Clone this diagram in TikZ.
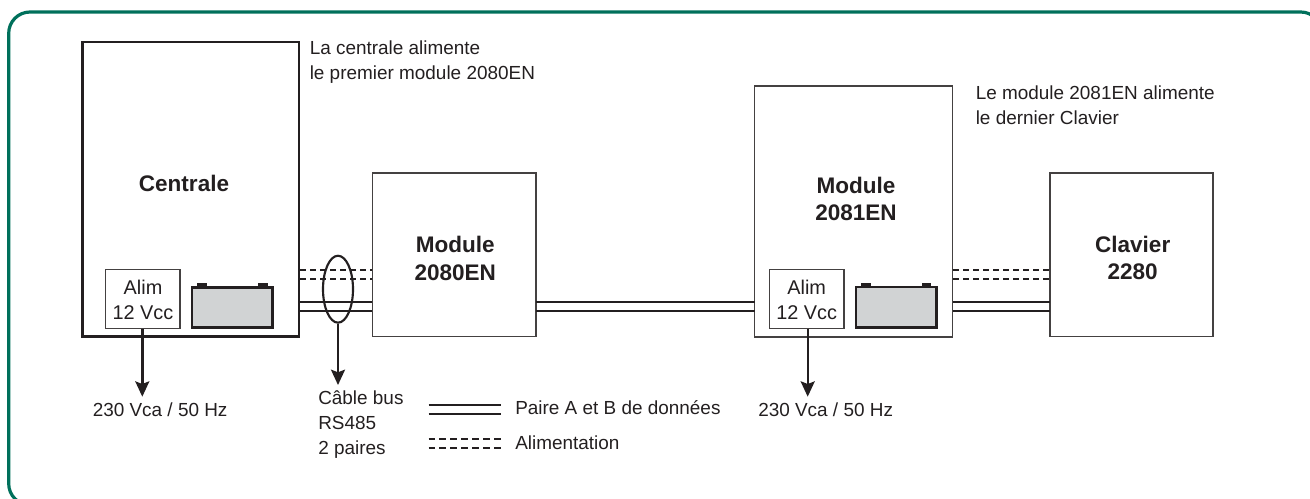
\documentclass[tikz,border=0pt]{standalone}
\usepackage{fontspec}
\setmainfont{Liberation Sans}
\usetikzlibrary{arrows.meta,shapes.geometric}
\definecolor{framegreen}{HTML}{00705B}
\definecolor{ink}{HTML}{231F20}
\definecolor{batgrey}{HTML}{D1D3D4}
\tikzset{
  x=0.75pt,y=-0.75pt,
  frameline/.style={draw=framegreen,line width=2.4pt,rounded corners=16pt},
  thickbox/.style={draw=ink,line width=1.8pt,fill=white,inner sep=0pt},
  thinbox/.style={draw=ink!85,line width=1pt,fill=white,inner sep=0pt},
  wire/.style={draw=ink,line width=1.5pt},
  dashwire/.style={draw=ink,line width=1.5pt,dash pattern=on 4.5pt off 3pt},
  legenddash/.style={draw=ink,line width=1.5pt,dash pattern=on 5pt off 3.2pt},
  flow/.style={draw=ink,line width=1.8pt,-{Stealth[length=11.5pt,width=10.5pt,inset=2pt]}},
  title/.style={font=\bfseries\fontsize{16.9}{20.7}\selectfont,text=ink,align=center,inner sep=0pt},
  caption/.style={font=\fontsize{14.2}{18.6}\selectfont,text=ink,align=left,inner sep=0pt},
  alimbox/.style={thinbox,align=center,font=\fontsize{14.9}{18.3}\selectfont,text=ink},
  battery/.style={draw=ink,line width=1.8pt,fill=batgrey},
  terminal/.style={draw=none,fill=ink},
  cable/.style={draw=ink,line width=1.6pt},
}
\begin{document}
\begin{tikzpicture}
\useasboundingbox (0,0) rectangle (1310,499);
\draw[frameline] (8.7,12) rectangle (1322,505);
% boxes
\node[thickbox,minimum width=162.4pt,minimum height=220.5pt] (centrale) at (190.7,189.3) {};
\node[thinbox,minimum width=122.7pt,minimum height=122.5pt] (m2080) at (454.2,254.7) {};
\node[thinbox,minimum width=148.5pt,minimum height=188.2pt] (m2081) at (853.7,211.4) {};
\node[thinbox,minimum width=122.2pt,minimum height=122.5pt] (clavier) at (1131.5,254.7) {};
% wires
\draw[dashwire] (300,270) -- (372,270);
\draw[dashwire] (300,279) -- (372,279);
\draw[wire] (299,302) -- (372,302);
\draw[wire] (299,311) -- (372,311);
\draw[wire] (536,302) -- (755,302);
\draw[wire] (536,311) -- (755,311);
\draw[dashwire] (953,270) -- (1050,270);
\draw[dashwire] (953,279) -- (1050,279);
\draw[wire] (953,302) -- (1050,302);
\draw[wire] (953,311) -- (1050,311);
% titles
\node[title,anchor=base] (tcentrale) at (184,192) {Centrale};
\node[title] (tm2080) at (455.3,258.5) {Module\\2080EN};
\node[title] (tm2081) at (856,199) {Module\\2081EN};
\node[title] (tclavier) at (1132.7,258) {Clavier\\2280};
% alim boxes
\node[thinbox,minimum width=55.7pt,minimum height=44.2pt] (alima) at (142.8,298.8) {};
\node[thinbox,minimum width=56pt,minimum height=44.2pt] (alimb) at (806.7,298.8) {};
\node[alimbox,draw=none,fill=none] (talima) at (143,299.8) {Alim\\12 Vcc};
\node[alimbox,draw=none,fill=none] (talimb) at (806.7,299.8) {Alim\\12 Vcc};
% batteries
\draw[terminal] (197,282.5) rectangle (207,288);
\draw[terminal] (258,282.5) rectangle (267.5,288);
\draw[battery] (192,287.5) rectangle (272.5,327.5);
\draw[terminal] (861,282.5) rectangle (870.5,288);
\draw[terminal] (921.7,282.5) rectangle (931.3,288);
\draw[battery] (856,287) rectangle (936.5,327.5);
% cable
\node[cable,ellipse,minimum width=22.5pt,minimum height=50.2pt,inner sep=0pt] (cable) at (338,289.2) {};
\coordinate (cablearrow) at (338,385);
\draw[flow] (cable.south) -- (cablearrow);
\coordinate (arra) at (142.3,396.7);
\coordinate (arrb) at (807.7,396.7);
\draw[flow] (alima.south -| arra) -- (arra);
\draw[flow] (alimb.south -| arrb) -- (arrb);
% captions
\node[caption,anchor=north west] (c1) at (309.5,41) {La centrale alimente\\le premier module 2080EN};
\node[caption,anchor=north west] (c2) at (975.5,85.5) {Le module 2081EN alimente\\le dernier Clavier};
\node[caption,anchor=base west] (c3) at (92.5,416.7) {230 Vca / 50 Hz};
\node[caption,anchor=base west] (c4) at (758,416.7) {230 Vca / 50 Hz};
\node[caption,anchor=north west] (c5) at (318,390.5) {Câble bus\\RS485\\2 paires};
\node[caption,anchor=base west] (c6) at (515,414) {Paire A et B de données};
\node[caption,anchor=base west] (c7) at (515,449) {Alimentation};
% legend
\coordinate (la) at (428.5,405); \coordinate (lb) at (501,405);
\coordinate (lc) at (428.5,414); \coordinate (ld) at (501,414);
\coordinate (le) at (428.5,439); \coordinate (lf) at (501,439);
\coordinate (lg) at (428.5,448); \coordinate (lh) at (501,448);
\draw[wire] (la) -- (lb);
\draw[wire] (lc) -- (ld);
\draw[legenddash] (le) -- (lf);
\draw[legenddash] (lg) -- (lh);
\end{tikzpicture}
\end{document}
